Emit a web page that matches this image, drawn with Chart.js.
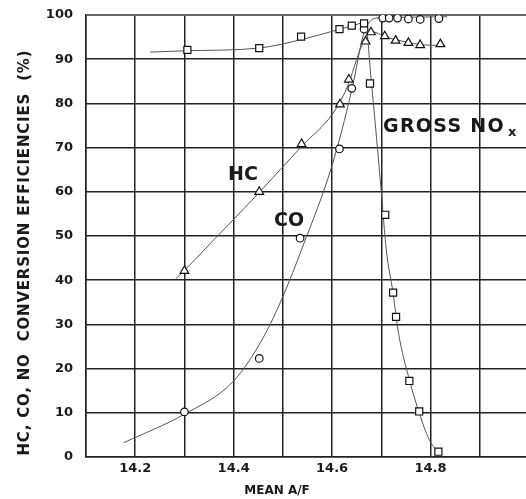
<!DOCTYPE html>
<html>
<head>
<meta charset="utf-8">
<script src="https://cdn.jsdelivr.net/npm/chart.js@4.4.1/dist/chart.umd.min.js"></script>
<style>
  html, body { margin: 0; padding: 0; background: #fff; }
  #wrap { width: 526px; height: 499px; }
</style>
</head>
<body>
<div id="wrap"><canvas id="efficiencyChart" width="526" height="499"></canvas></div>
<script>
// measured points (markers)
const noxX = [14.306, 14.452, 14.537, 14.615, 14.64, 14.665, 14.677, 14.708, 14.724, 14.73, 14.757, 14.777, 14.816];
const noxY = [92.1, 92.5, 95.1, 96.8, 97.6, 98.1, 84.5, 54.8, 37.2, 31.7, 17.2, 10.3, 1.2];
const coX = [14.30, 14.452, 14.535, 14.615, 14.64, 14.665, 14.703, 14.716, 14.733, 14.755, 14.779, 14.817];
const coY = [10.2, 22.3, 49.5, 69.7, 83.4, 96.8, 99.3, 99.3, 99.3, 99.1, 99.0, 99.2];
const hcX = [14.30, 14.452, 14.538, 14.616, 14.634, 14.668, 14.679, 14.707, 14.729, 14.755, 14.779, 14.82];
const hcY = [42.1, 60.0, 70.8, 79.8, 85.4, 94.0, 96.1, 95.2, 94.2, 93.7, 93.2, 93.4];

// faired curves drawn through the data
const noxCurveX = [14.23, 14.30, 14.45, 14.54, 14.60, 14.64, 14.667, 14.68, 14.70, 14.71, 14.724, 14.735, 14.757, 14.777, 14.797, 14.816];
const noxCurveY = [91.6, 91.9, 92.5, 94.5, 96.3, 97.5, 98.3, 84.6, 60, 47, 37, 28, 17.5, 10, 4, 1];
const coCurveX = [14.176, 14.30, 14.40, 14.46, 14.50, 14.54, 14.60, 14.64, 14.665, 14.69, 14.75, 14.834];
const coCurveY = [3.2, 9.7, 17.2, 27, 36.3, 47.5, 66, 83, 96, 99.3, 99.5, 99.6];
const hcCurveX = [14.282, 14.30, 14.35, 14.45, 14.54, 14.60, 14.63, 14.66, 14.678, 14.71, 14.75, 14.78, 14.83];
const hcCurveY = [40.3, 42.2, 48, 59.6, 70.5, 77.5, 83.5, 93, 96.3, 95, 93.9, 93.3, 93.1];

const xTicks = [14.1, 14.2, 14.3, 14.4, 14.5, 14.6, 14.7, 14.8, 14.9];
const xLabels = ["14.2", "14.4", "14.6", "14.8"];

function pts(xs, ys) {
    return xs.map((x, i) => ({ x: x, y: ys[i] }));
}

function curve(xs, ys) {
    return {
        data: pts(xs, ys),
        showLine: true,
        borderColor: "#555",
        borderWidth: 1,
        pointRadius: 0,
        cubicInterpolationMode: "monotone",
        order: 2
    };
}

function markers(xs, ys, style, r) {
    return {
        data: pts(xs, ys),
        showLine: false,
        pointStyle: style,
        pointRadius: r,
        pointBackgroundColor: "#fff",
        pointBorderColor: "#111",
        pointBorderWidth: 1.2,
        order: 1
    };
}

const textColor = "#1a1a1a";

const labelsPlugin = {
    id: "labels",
    beforeDraw(chart) {
        const ctx = chart.ctx;
        ctx.save();
        ctx.fillStyle = "#fff";
        ctx.fillRect(0, 0, chart.width, chart.height);
        ctx.restore();
    },
    afterDraw(chart) {
        const ctx = chart.ctx;
        ctx.save();
        ctx.fillStyle = textColor;
        ctx.textBaseline = "middle";

        // y axis title
        const yTitle = "HC, CO, NO  CONVERSION EFFICIENCIES  (%)";
        ctx.font = "bold 15px 'DejaVu Sans'";
        const w = ctx.measureText(yTitle).width;
        const sp = Math.max(0, (405 - w) / (yTitle.length - 1));
        ctx.letterSpacing = sp + "px";
        ctx.translate(25, 253);
        ctx.rotate(-Math.PI / 2);
        ctx.textAlign = "center";
        ctx.fillText(yTitle, sp / 2, 0);
        ctx.restore();

        ctx.save();
        ctx.fillStyle = textColor;
        ctx.textBaseline = "middle";
        ctx.textAlign = "center";
        ctx.font = "bold 12px 'DejaVu Sans'";
        ctx.fillText("MEAN A/F", 277, 491);

        ctx.font = "bold 19px 'DejaVu Sans'";
        ctx.fillText("HC", 243, 175);
        ctx.fillText("CO", 289, 221);

        ctx.textAlign = "left";
        ctx.textBaseline = "alphabetic";
        ctx.letterSpacing = "1.3px";
        ctx.fillText("GROSS NO", 383, 132);
        ctx.letterSpacing = "0px";
        ctx.font = "bold 13px 'DejaVu Sans'";
        ctx.fillText("x", 508, 136);
        ctx.restore();
    }
};

document.addEventListener("DOMContentLoaded", function () {
    const canvas = document.getElementById("efficiencyChart");
    const ctx = canvas.getContext("2d");

    new Chart(ctx, {
        type: "scatter",
        data: {
            datasets: [
                curve(noxCurveX, noxCurveY),
                curve(coCurveX, coCurveY),
                curve(hcCurveX, hcCurveY),
                markers(noxX, noxY, "rect", 5),
                markers(coX, coY, "circle", 3.8),
                markers(hcX, hcY, "triangle", 5)
            ]
        },
        options: {
            responsive: false,
            animation: false,
            devicePixelRatio: 1,
            layout: { autoPadding: false, padding: { top: 15, right: 0, left: 0, bottom: 0 } },
            plugins: { legend: { display: false }, tooltip: { enabled: false } },
            scales: {
                x: {
                    type: "linear",
                    min: 14.1,
                    max: 14.994,
                    afterBuildTicks: function (scale) {
                        scale.ticks = xTicks.map(v => ({ value: v }));
                    },
                    afterFit: function (scale) {
                        scale.height = 42;
                        scale.paddingLeft = 0;
                        scale.paddingRight = 0;
                    },
                    ticks: {
                        autoSkip: false,
                        maxRotation: 0,
                        padding: 4,
                        color: textColor,
                        font: { family: "'DejaVu Sans'", size: 13, weight: "bold" },
                        callback: function (v) {
                            const s = v.toFixed(1);
                            return xLabels.includes(s) ? s : "";
                        }
                    },
                    grid: { color: "#222", lineWidth: 1.5, drawTicks: false },
                    border: { color: "#222", width: 1.5 }
                },
                y: {
                    min: 0,
                    max: 100,
                    afterFit: function (scale) {
                        scale.width = 86;
                        scale.paddingTop = 0;
                        scale.paddingBottom = 0;
                    },
                    ticks: {
                        stepSize: 10,
                        padding: 13,
                        color: textColor,
                        font: { family: "'DejaVu Sans'", size: 13, weight: "bold" }
                    },
                    grid: {
                        color: c => (c.tick && c.tick.value === 100 ? "#666" : "#222"),
                        lineWidth: c => (c.tick && c.tick.value === 100 ? 2 : 1.5),
                        drawTicks: false
                    },
                    border: { color: "#222", width: 1.5 }
                }
            }
        },
        plugins: [labelsPlugin]
    });
});
</script>
</body>
</html>
